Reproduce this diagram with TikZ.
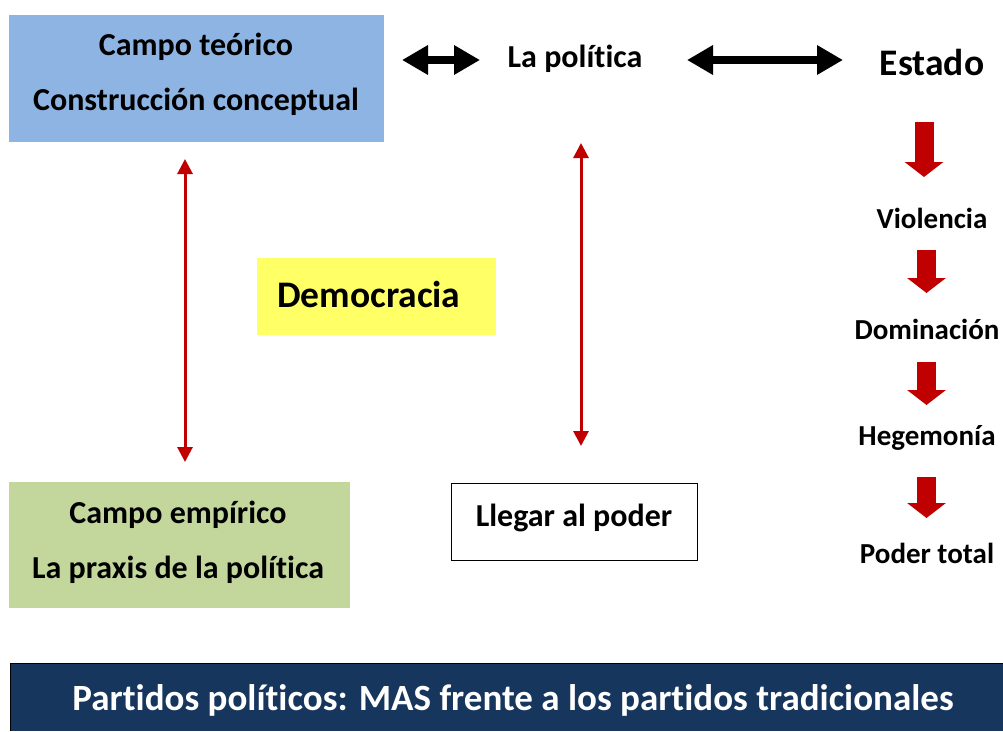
\documentclass[tikz,border=0pt]{standalone}
\usepackage{fontspec}
\setmainfont{Carlito}[Ligatures=NoCommon]
\usetikzlibrary{arrows.meta}
\definecolor{boxblue}{HTML}{8EB4E3}
\definecolor{boxgreen}{HTML}{C3D69B}
\definecolor{boxyellow}{HTML}{FFFF66}
\definecolor{arrred}{HTML}{C00000}
\definecolor{banner}{HTML}{17365D}
\tikzset{
  txt/.style={font=\bfseries\fontsize{32}{36}\selectfont, inner sep=0pt, yshift=-2pt},
  coltxt/.style={font=\bfseries\fontsize{29}{34}\selectfont, inner sep=0pt, yshift=-1pt},
  bigtxt/.style={font=\bfseries\fontsize{37.5}{42}\selectfont, inner sep=0pt, yshift=-1pt},
  blockarr/.style={line width=7.5pt, {Triangle[width=28pt,length=26pt]}-{Triangle[width=28pt,length=26pt]}},
  redblock/.style={arrred, line width=19pt, -{Triangle[width=38pt,length=15pt]}},
  redthin/.style={arrred, line width=3pt, {Triangle[width=15pt,length=15pt]}-{Triangle[width=15pt,length=15pt]}},
}
\begin{document}
\begin{tikzpicture}[x=1pt,y=-1pt]
\useasboundingbox (0,0) rectangle (1003,731);
% boxes
\fill[boxblue] (9,15) rectangle (384,142);
\node[txt] (teo1) at (196,45) {Campo teórico};
\node[txt] (teo2) at (196,100) {Construcción conceptual};
\fill[boxgreen] (9,482) rectangle (350,608);
\node[txt] (emp1) at (178,513) {Campo empírico};
\node[txt] (emp2) at (178,568) {La praxis de la política};
\fill[boxyellow] (257,258) rectangle (496,335);
\node[bigtxt, anchor=west] (demo) at (277,293) {Democracia};
\node[draw, line width=1pt, minimum width=246pt, minimum height=77pt, inner sep=0pt] (llegar) at (574,521.5) {};
\node[txt] (llegartxt) at (574,516) {Llegar al poder};
% top row
\node[txt] (pol) at (575,57) {La política};
\node[bigtxt] (estado) at (932,61) {Estado};
\coordinate (a1l) at (402,60);
\coordinate (a1r) at (480,60);
\coordinate (a2l) at (687,60);
\coordinate (a2r) at (843,60);
\draw[blockarr] (a1l) -- (a1r);
\draw[blockarr] (a2l) -- (a2r);
% right column
\node[coltxt] (viol) at (932,217) {Violencia};
\node[coltxt] (dom) at (927,328) {Dominación};
\node[coltxt] (heg) at (927,437) {Hegemonía};
\node[coltxt] (pod) at (927,552) {Poder total};
\coordinate (r1a) at (924,122); \coordinate (r1b) at (924,177);
\coordinate (r2a) at (926.5,250); \coordinate (r2b) at (926.5,293);
\coordinate (r3a) at (926.5,362); \coordinate (r3b) at (926.5,405);
\coordinate (r4a) at (926.5,477); \coordinate (r4b) at (926.5,518);
\draw[redblock] (r1a) -- (r1b);
\draw[redblock] (r2a) -- (r2b);
\draw[redblock] (r3a) -- (r3b);
\draw[redblock] (r4a) -- (r4b);
% thin red arrows
\coordinate (l1) at (185,159); \coordinate (l2) at (185,462);
\coordinate (m1) at (581,143); \coordinate (m2) at (581,446);
\draw[redthin] (l1) -- (l2);
\draw[redthin] (m1) -- (m2);
% banner
\fill[banner] (10,663) rectangle (1003,731);
\draw[black, line width=1pt] (10.5,731) -- (10.5,663.5) -- (1003,663.5);
\node[font=\bfseries\fontsize{37}{42}\selectfont, text=white, inner sep=0pt, yshift=-1pt] (ban) at (513,699) {Partidos políticos: MAS frente a los partidos tradicionales};
\end{tikzpicture}
\end{document}
